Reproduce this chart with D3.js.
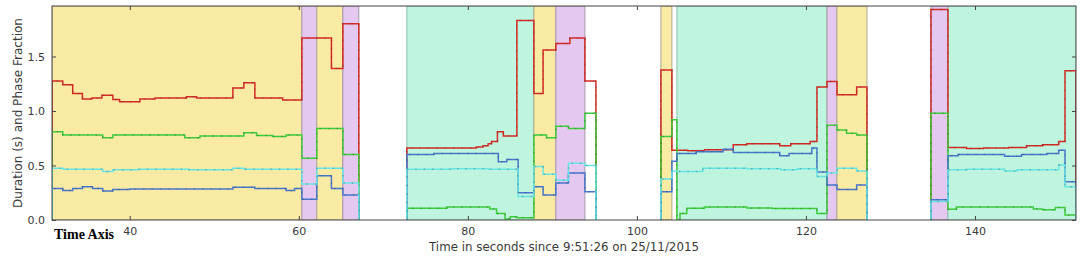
<!DOCTYPE html>
<html>
<head>
<meta charset="utf-8">
<script src="https://cdn.jsdelivr.net/npm/d3@7"></script>
<style>
  body { margin: 0; background: #fff; }
  svg { display: block; font-family: "DejaVu Sans", sans-serif; }
</style>
</head>
<body>
<div id="chart"></div>
<script>
// phase background spans: [start, end, kind]
const phaseSpans = [
  [30.8, 60.36, "yellow"], [60.36, 62.13, "purple"], [62.13, 65.21, "yellow"], [65.21, 67.1, "purple"],
  [72.78, 87.81, "green"], [87.81, 90.41, "yellow"], [90.41, 93.85, "purple"],
  [102.84, 104.14, "yellow"], [104.73, 122.49, "green"], [122.49, 123.67, "purple"], [123.67, 127.22, "yellow"],
  [134.79, 136.8, "purple"], [136.8, 151.95, "green"]
];

// time ranges that hold data
const dataRanges = [[30.8, 67.1], [72.78, 95.15], [102.84, 127.22], [134.79, 151.95]];

// step series, one list of [time, value] per data range
const redSeries = [
  [[30.8,1.275],[32.07,1.24],[33.25,1.16],[34.4,1.11],[35.5,1.12],[36.7,1.145],[38.0,1.105],[38.8,1.085],[41.2,1.11],[43.0,1.12],[46.7,1.13],[47.9,1.12],[52.2,1.21],[53.5,1.26],[54.8,1.12],[58.1,1.10],[60.36,1.67],[63.86,1.39],[65.21,1.80]],
  [[72.78,0.66],[81.0,0.67],[81.8,0.68],[82.4,0.70],[82.8,0.72],[83.5,0.81],[84.2,0.77],[85.8,1.83],[87.81,1.16],[88.9,1.56],[90.41,1.62],[92.07,1.67],[93.85,1.275]],
  [[102.84,1.376],[104.14,0.64],[106,0.635],[108,0.645],[111.4,0.69],[113,0.70],[116.9,0.68],[118.2,0.70],[120.5,0.72],[121.3,1.22],[122.49,1.27],[123.67,1.15],[126.0,1.22]],
  [[134.79,1.93],[136.8,0.665],[139,0.655],[141,0.66],[144,0.665],[146.1,0.68],[148,0.69],[149.9,0.72],[150.65,1.37]]
];
const greenSeries = [
  [[30.8,0.81],[32.07,0.78],[36.8,0.755],[38.0,0.78],[46.5,0.755],[48.3,0.77],[53.5,0.80],[55.0,0.775],[56.9,0.765],[58.5,0.78],[60.36,0.566],[62.13,0.84],[65.21,0.60]],
  [[72.78,0.107],[77.5,0.12],[82.6,0.10],[83.4,0.06],[84.4,0.01],[85.0,0.03],[85.8,0.02],[87.81,0.78],[89.3,0.755],[90.41,0.86],[91.9,0.84],[93.85,0.98]],
  [[102.84,0.765],[104.14,0.92],[104.73,0.0],[105.1,0.06],[105.9,0.107],[108,0.12],[113,0.11],[116,0.105],[121.3,0.06],[122.49,0.87],[123.67,0.825],[124.8,0.795],[126.0,0.78]],
  [[134.79,0.98],[136.8,0.098],[137.8,0.12],[146.9,0.10],[148,0.095],[149.5,0.115],[150.65,0.045]]
];
const blueSeries = [
  [[30.8,0.29],[32.07,0.27],[33.25,0.29],[34.4,0.305],[35.6,0.29],[36.8,0.265],[38.0,0.28],[40,0.285],[52.2,0.30],[54.8,0.29],[58.5,0.27],[59.5,0.29],[60.36,0.19],[62.13,0.405],[63.86,0.29],[65.21,0.23]],
  [[72.78,0.60],[76,0.61],[83.6,0.535],[84.6,0.555],[85.95,0.25],[87.81,0.305],[88.9,0.23],[90.41,0.34],[91.9,0.43],[93.85,0.26]],
  [[102.84,0.26],[104.14,0.54],[104.73,0.61],[107,0.625],[110.2,0.65],[111.4,0.62],[116.9,0.59],[118,0.61],[120.7,0.66],[121.3,0.44],[122.49,0.32],[123.67,0.28],[126.0,0.32]],
  [[134.79,0.185],[136.8,0.59],[138,0.60],[143.5,0.585],[145.5,0.60],[148.5,0.61],[149.9,0.64],[150.65,0.35]]
];
const cyanSeries = [
  [[30.8,0.475],[32.1,0.465],[36.8,0.445],[38.0,0.46],[41,0.465],[47,0.46],[52.2,0.475],[53.5,0.465],[60.36,0.33],[62.13,0.475],[65.21,0.34]],
  [[72.78,0.465],[78,0.47],[82.5,0.465],[85.95,0.215],[87.81,0.49],[88.9,0.42],[90.41,0.365],[91.9,0.52],[93.85,0.50]],
  [[102.84,0.376],[104.14,0.45],[104.73,0.445],[107.8,0.475],[113,0.47],[117,0.46],[119,0.47],[121.3,0.40],[122.49,0.43],[123.67,0.475],[126.0,0.45]],
  [[134.79,0.17],[136.8,0.46],[139,0.465],[143.5,0.45],[145,0.46],[149.9,0.505],[150.65,0.305]]
];

const xTicks = [40, 60, 80, 100, 120, 140];
const yTicks = [0, 0.5, 1.0, 1.5];

const width = 1084;
const height = 259;
const margin = { top: 6, right: 8, bottom: 39, left: 52 };

const spanFill = { yellow: "#f9eaa4", purple: "#e5c8f0", green: "#bff5de" };
const spanEdge = { yellow: "#b0a890", purple: "#a898ac", green: "#90c0b0" };

const svg = d3.select("#chart").append("svg")
  .attr("width", width)
  .attr("height", height);

const x = d3.scaleLinear().domain([30.8, 151.95]).range([margin.left, width - margin.right]);
const y = d3.scaleLinear().domain([0, 1.963]).range([height - margin.bottom, margin.top]);

svg.append("defs").append("clipPath").attr("id", "plot-clip")
  .append("rect")
  .attr("x", margin.left).attr("y", margin.top)
  .attr("width", width - margin.left - margin.right)
  .attr("height", height - margin.top - margin.bottom);

const plot = svg.append("g").attr("clip-path", "url(#plot-clip)");

plot.selectAll("rect.span")
  .data(phaseSpans)
  .join("rect")
  .attr("class", "span")
  .attr("x", d => x(d[0]))
  .attr("width", d => x(d[1]) - x(d[0]))
  .attr("y", y(1.963))
  .attr("height", y(0) - y(1.963))
  .attr("fill", d => spanFill[d[2]])
  .attr("stroke", d => spanEdge[d[2]])
  .attr("stroke-width", 1);

const line = d3.line()
  .x(d => x(d[0]))
  .y(d => y(d[1]))
  .curve(d3.curveStepAfter);

function withEnds(seg, i) {
  const [start, end] = dataRanges[i];
  return [[start, 0], ...seg, [end, 0]];
}

const allSeries = [
  { data: redSeries, color: "#d42a24" },
  { data: greenSeries, color: "#3dcc3a" },
  { data: blueSeries, color: "#4677cc" },
  { data: cyanSeries, color: "#66e5e5" }
];

allSeries.forEach(s => {
  s.data.forEach((seg, i) => {
    const pts = withEnds(seg, i);
    plot.append("path")
      .attr("d", line(pts))
      .attr("fill", "none")
      .attr("stroke", s.color)
      .attr("stroke-width", 1.5);
    // faint sample dots along the line
    plot.append("path")
      .attr("d", line(pts))
      .attr("fill", "none")
      .attr("stroke", "#333")
      .attr("stroke-opacity", 0.3)
      .attr("stroke-width", 1.5)
      .attr("stroke-dasharray", "1.4,7.05");
  });
});

// axes with inward ticks
const tickColor = "#444";
const bottomAxis = d3.axisBottom(x).tickValues(xTicks).tickSize(-4).tickSizeOuter(0).tickPadding(7).tickFormat(d3.format("d"));
const topAxis = d3.axisTop(x).tickValues(xTicks).tickSize(-4).tickSizeOuter(0).tickFormat("");
const leftAxis = d3.axisLeft(y).tickValues(yTicks).tickSize(-4).tickSizeOuter(0).tickPadding(7).tickFormat(d3.format(".1f"));
const rightAxis = d3.axisRight(y).tickValues(yTicks).tickSize(-4).tickSizeOuter(0).tickFormat("");

function styleAxis(g) {
  g.select(".domain").remove();
  g.selectAll(".tick line").attr("stroke", tickColor);
  g.selectAll(".tick text").attr("fill", "#3a3a3a").attr("font-size", 11).attr("font-family", "DejaVu Sans, sans-serif");
}

svg.append("g").attr("transform", `translate(0,${y(0)})`).call(bottomAxis).call(styleAxis);
svg.append("g").attr("transform", `translate(0,${y(1.963)})`).call(topAxis).call(styleAxis);
svg.append("g").attr("transform", `translate(${x(30.8)},0)`).call(leftAxis).call(styleAxis);
svg.append("g").attr("transform", `translate(${x(151.95)},0)`).call(rightAxis).call(styleAxis);

svg.append("rect")
  .attr("x", margin.left).attr("y", margin.top)
  .attr("width", width - margin.left - margin.right)
  .attr("height", height - margin.top - margin.bottom)
  .attr("fill", "none")
  .attr("stroke", "#444")
  .attr("stroke-width", 1);

svg.append("text")
  .attr("x", (margin.left + width - margin.right) / 2)
  .attr("y", 251)
  .attr("text-anchor", "middle")
  .attr("font-size", 11.5)
  .attr("fill", "#3a3a3a")
  .attr("textLength", 270)
  .attr("lengthAdjust", "spacingAndGlyphs")
  .text("Time in seconds since 9:51:26 on 25/11/2015");

svg.append("text")
  .attr("transform", `translate(22,${(margin.top + height - margin.bottom) / 2}) rotate(-90)`)
  .attr("text-anchor", "middle")
  .attr("font-size", 12)
  .attr("fill", "#3a3a3a")
  .attr("textLength", 190)
  .attr("lengthAdjust", "spacingAndGlyphs")
  .text("Duration (s) and Phase Fraction");

svg.append("text")
  .attr("x", 54)
  .attr("y", 239)
  .attr("font-family", "Liberation Serif, serif")
  .attr("font-weight", "bold")
  .attr("font-size", 14)
  .attr("fill", "#000")
  .text("Time Axis");
</script>
</body>
</html>
